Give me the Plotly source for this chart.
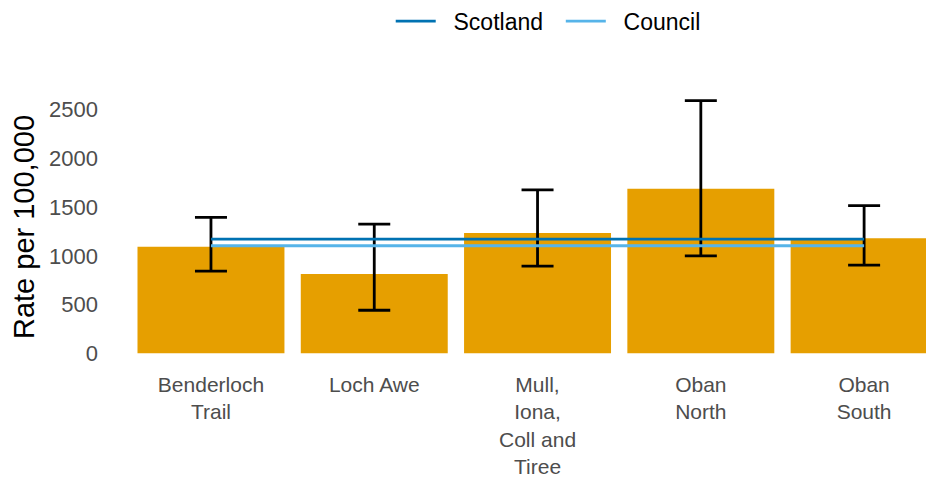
import plotly.graph_objects as go

categories = ["Benderloch<br>Trail", "Loch Awe", "Mull,<br>Iona,<br>Coll and<br>Tiree", "Oban<br>North", "Oban<br>South"]
rates = [1094, 813, 1235, 1690, 1180]
upper_ci = [1396, 1327, 1677, 2593, 1516]
lower_ci = [844, 442, 895, 1001, 905]
scotland_rate = 1173
council_rate = 1104
y_ticks = [0, 500, 1000, 1500, 2000, 2500]

xpos = list(range(len(categories)))
err_plus = [u - r for u, r in zip(upper_ci, rates)]
err_minus = [r - l for r, l in zip(rates, lower_ci)]

fig = go.Figure()
fig.add_trace(go.Bar(
    x=xpos, y=rates, width=0.9, marker=dict(color="#E69F00", line=dict(width=0)),
    error_y=dict(type="data", array=err_plus, arrayminus=err_minus, color="black",
                 thickness=2.8, width=16, visible=True),
    showlegend=False, hoverinfo="y"))
fig.add_trace(go.Scatter(
    x=[xpos[0], xpos[-1]], y=[scotland_rate, scotland_rate], mode="lines",
    line=dict(color="#0072B2", width=2.8), name="\u00a0\u00a0Scotland\u00a0\u00a0"))
fig.add_trace(go.Scatter(
    x=[xpos[0], xpos[-1]], y=[council_rate, council_rate], mode="lines",
    line=dict(color="#56B4E9", width=2.8), name="\u00a0\u00a0Council"))

font_family = "Liberation Sans, Arial, sans-serif"
# the page has an 8px body margin, so the figure is offset by 8px
fig.update_layout(
    width=934, height=469,
    margin=dict(l=105, r=0, t=80, b=111),
    plot_bgcolor="white", paper_bgcolor="white",
    font=dict(family=font_family),
    legend=dict(orientation="h", x=0.525, xanchor="center",
                yref="container", y=0.972, yanchor="middle",
                font=dict(size=23, color="black"), itemwidth=40),
    bargap=0.1,
)
fig.update_xaxes(
    range=[-0.6, 4.477], tickvals=xpos, ticktext=categories, automargin=False,
    showgrid=False, zeroline=False, showline=False, ticks="", ticklabelstandoff=4,
    tickfont=dict(size=21, color="#4D4D4D"))
fig.update_yaxes(
    range=[-130, 2723], tickvals=y_ticks, showgrid=False, zeroline=False, automargin=False,
    showline=False, ticks="", ticklabelstandoff=14, tickfont=dict(size=22, color="#4D4D4D"),
    title=dict(text="Rate per 100,000", font=dict(size=29, color="black"), standoff=10))

fig.write_html("out.html")
